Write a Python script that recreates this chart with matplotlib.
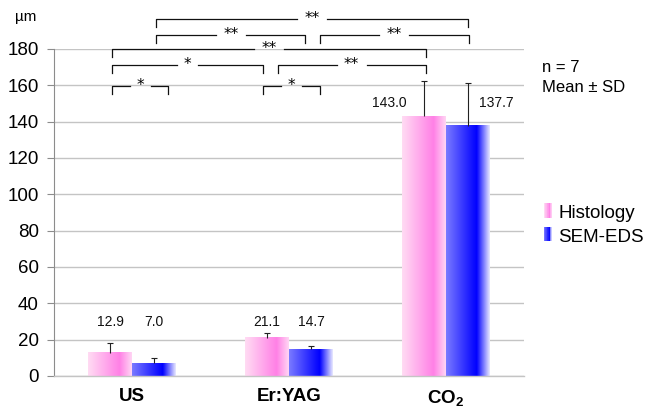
import numpy as np
import matplotlib
matplotlib.use("Agg")
import matplotlib.pyplot as plt
from matplotlib.colors import LinearSegmentedColormap
from matplotlib.legend_handler import HandlerBase
import matplotlib.patches as mpatches

plt.rcParams["font.family"] = ["Liberation Sans", "DejaVu Sans"]
plt.rcParams["mathtext.fontset"] = "custom"
plt.rcParams["mathtext.rm"] = "Liberation Sans"
plt.rcParams["mathtext.bf"] = "Liberation Sans:bold"

# Data
categories = ["US", "Er:YAG", "CO$_\\mathbf{2}$"]
series = ["Histology", "SEM-EDS"]
histology = [12.9, 21.1, 143.0]
sem_eds = [7.0, 14.7, 137.7]
histology_sd = [5.3, 2.4, 19.5]
sem_eds_sd = [2.9, 2.0, 23.4]

# significance brackets: (x left, x right, bracket height, label)
brackets = [
    (0.153, 2.14, 196.3, "**"),
    (0.153, 1.105, 187.7, "**"),
    (1.195, 2.147, 187.7, "**"),
    (-0.128, 1.872, 179.8, "**"),
    (-0.128, 0.831, 171.2, "*"),
    (0.927, 1.872, 171.2, "**"),
    (-0.128, 0.23, 159.6, "*"),
    (0.831, 1.195, 159.6, "*"),
]

# Style
BAR_W = 0.28
GRID = "#c4c4c4"
AXIS = "#8c8c8c"
pink_cmap = LinearSegmentedColormap.from_list(
    "pink", [(0, "#ffdcf3"), (0.72, "#ff80e6"), (1.0, "#ffd6f4")])
blue_cmap = LinearSegmentedColormap.from_list(
    "blue", [(0, "#7a7aff"), (0.7, "#0000ff"), (1.0, "#eaeaff")])
grad = np.linspace(0, 1, 256).reshape(1, -1)

fig = plt.figure(figsize=(6.46, 4.11), dpi=100)
ax = fig.add_axes([0.0836, 0.0852, 0.7276, 0.7956])

x = np.arange(len(categories))
for vals, sds, off, cmap in [(histology, histology_sd, -BAR_W / 2, pink_cmap),
                             (sem_eds, sem_eds_sd, BAR_W / 2, blue_cmap)]:
    bars = ax.bar(x + off, vals, BAR_W, color="none", zorder=2)
    for b in bars:
        x0, w, h = b.get_x(), b.get_width(), b.get_height()
        ax.imshow(grad, cmap=cmap, aspect="auto", extent=(x0, x0 + w, 0, h),
                  zorder=2, interpolation="bilinear")
    tops = np.array(vals) + np.array(sds)
    ax.vlines(x + off, vals, tops, color="#222222", linewidth=0.8, zorder=3)
    ax.plot(x + off, tops, linestyle="none", marker="_", markersize=5,
            markeredgewidth=0.8, color="#222222", zorder=3)

# value labels
label_pos = [(-0.14, 29.7, "center"), (0.14, 29.7, "center"),
             (-0.14, 29.7, "center"), (0.14, 29.7, "center"),
             (-0.25, 150.5, "right"), (0.21, 150.5, "left")]
vals_all = [histology[0], sem_eds[0], histology[1], sem_eds[1], histology[2], sem_eds[2]]
cats_all = [0, 0, 1, 1, 2, 2]
for (dx, yy, ha), v, c in zip(label_pos, vals_all, cats_all):
    ax.text(c + dx, yy, f"{v:.1f}", ha=ha, va="center", fontsize=10, color="#111111")

ax.set_xlim(-0.5, 2.5)
ax.set_ylim(0, 180)
ax.set_yticks(np.arange(0, 181, 20))
ax.yaxis.grid(True, color=GRID, linewidth=1.0, zorder=0)
ax.set_axisbelow(True)
ax.set_xticks(x)
ax.set_xticklabels(categories, fontsize=13.5, fontweight="bold")
ax.tick_params(axis="x", length=0, pad=9)
ax.tick_params(axis="y", length=5, color=AXIS, labelsize=13.5, pad=6)
for s in ["top", "right"]:
    ax.spines[s].set_visible(False)
ax.spines["left"].set_color(AXIS)
ax.spines["bottom"].set_color(GRID)
ax.spines["bottom"].set_linewidth(1.0)

# brackets
px = 1 / 156.5
for x0, x1, y, lab in brackets:
    drop = 4.3
    gap = (30 if lab == "**" else 21) * px / 2
    xm = (x0 + x1) / 2
    kw = dict(color="#111111", linewidth=0.9, clip_on=False, zorder=4)
    ax.plot([x0, x0, xm - gap], [y - drop, y, y], **kw)
    ax.plot([xm + gap, x1, x1], [y, y, y - drop], **kw)
    ax.text(xm, y + 0.5, lab, ha="center", va="center", fontsize=11,
            family="DejaVu Sans", clip_on=False)

fig.text(0.023, 0.958, "µm", fontsize=11, va="center")
fig.text(0.839, 0.835, "n = 7", fontsize=12, va="center")
fig.text(0.839, 0.786, "Mean ± SD", fontsize=12, va="center")


class GradHandler(HandlerBase):
    def __init__(self, cmap):
        super().__init__()
        self.cmap = cmap

    def create_artists(self, legend, orig, xd, yd, w, h, fontsize, trans):
        n = 12
        arts = []
        for i in range(n):
            r = mpatches.Rectangle((xd + i * w / n, yd), w / n + 0.3, h,
                                   facecolor=self.cmap((i + 0.5) / n),
                                   edgecolor="none", transform=trans)
            arts.append(r)
        return arts


h1 = mpatches.Patch(label=series[0])
h2 = mpatches.Patch(label=series[1])
fig.legend(handles=[h1, h2], labels=series,
           handler_map={h1: GradHandler(pink_cmap), h2: GradHandler(blue_cmap)},
           loc="center left", bbox_to_anchor=(0.822, 0.452), frameon=False,
           fontsize=13.5, handlelength=0.4, handleheight=0.8, handletextpad=0.35,
           labelspacing=0.3, borderpad=0.2)

fig.savefig("out.png", dpi=100)
